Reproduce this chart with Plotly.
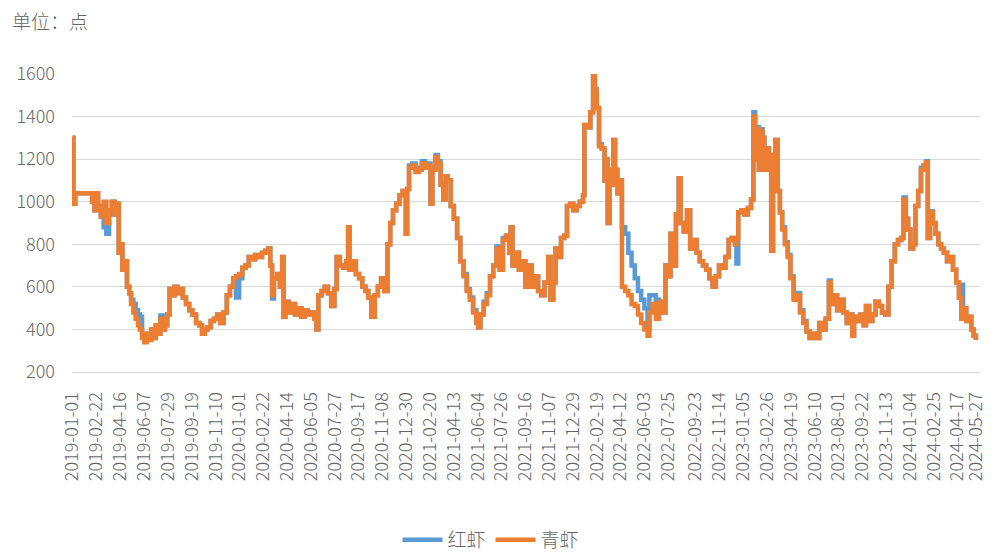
import pandas as pd
import plotly.graph_objects as go

# ---- data (day offsets from 2019-01-01; values in points) ----
BASE_DATE = "2019-01-01"

days_2019 = [0, 2, 6, 14, 21, 28, 35, 43, 48, 52, 56, 62, 68, 74, 80, 86, 92, 98, 101, 105,
             109, 114, 119, 124, 128, 133, 138, 143, 147, 152, 157, 162, 167, 172, 177, 182, 187, 192, 197, 202,
             207, 212, 217, 223, 229, 235, 241, 248, 255, 262, 270, 277, 283, 289, 295, 302, 309, 316, 323, 330,
             337, 344, 351, 357, 364]
qing_2019 = [1300, 990, 1040, 1040, 1040, 1040, 1040, 1000, 960, 1040, 980, 930, 1000, 900, 960, 1000, 940, 990, 760, 800,
             680, 720, 600, 570, 520, 480, 450, 420, 400, 360, 340, 380, 350, 400, 360, 420, 380, 450, 400, 420,
             470, 590, 560, 600, 570, 590, 550, 520, 490, 470, 430, 420, 380, 400, 410, 440, 450, 470, 430, 480,
             560, 600, 640, 650, 660]
hong_2019 = [1300, 990, 1040, 1040, 1040, 1040, 1040, 1000, 960, 1040, 980, 930, 880, 850, 940, 1000, 940, 990, 760, 800,
             680, 720, 600, 570, 540, 520, 490, 470, 460, 380, 350, 380, 360, 400, 360, 420, 380, 465, 400, 420,
             470, 590, 560, 600, 570, 590, 550, 520, 490, 470, 430, 420, 380, 400, 410, 440, 450, 470, 430, 480,
             560, 600, 640, 550, 640]

days_2020 = [371, 378, 385, 392, 399, 407, 414, 421, 428, 432, 436, 440, 447, 453, 458, 461, 465, 472, 479, 486,
             493, 500, 507, 514, 521, 528, 533, 537, 544, 551, 558, 565, 572, 577, 584, 591, 598, 602, 605, 612,
             619, 626, 633, 640, 646, 653, 660, 667, 674, 681, 688, 694, 700, 707, 714, 721, 728]
qing_2020 = [690, 700, 740, 730, 750, 740, 760, 770, 780, 700, 560, 640, 660, 600, 740, 460, 530, 480, 520, 470,
             500, 460, 490, 470, 480, 450, 400, 560, 580, 600, 570, 510, 590, 740, 700, 690, 720, 880, 680, 720,
             660, 640, 600, 580, 550, 460, 560, 600, 640, 580, 800, 900, 960, 990, 1030, 1050, 850]
hong_2020 = [690, 700, 740, 730, 750, 740, 760, 770, 780, 700, 545, 640, 660, 600, 740, 460, 530, 480, 520, 470,
             500, 460, 490, 470, 480, 450, 400, 560, 580, 600, 570, 510, 590, 740, 700, 690, 720, 880, 680, 720,
             660, 640, 600, 580, 550, 460, 560, 600, 640, 580, 800, 900, 960, 990, 1030, 1050, 850]

days_2021 = [731, 735, 742, 749, 756, 763, 770, 777, 782, 786, 793, 798, 804, 810, 815, 819, 826, 833, 840, 847,
             854, 861, 868, 875, 882, 886, 891, 898, 905, 912, 919, 926, 933, 940, 947, 954, 957, 961, 968, 975,
             982, 989, 996, 1003, 1010, 1017, 1024, 1031, 1039, 1044, 1050, 1055, 1061, 1067, 1074, 1080, 1087, 1094]
qing_2021 = [1060, 1160, 1170, 1140, 1150, 1180, 1160, 1170, 990, 1150, 1210, 1180, 1080, 1010, 1120, 1100, 980, 920, 830, 720,
             650, 580, 540, 480, 430, 410, 470, 520, 560, 650, 700, 780, 680, 820, 840, 760, 880, 700, 760, 680,
             720, 600, 700, 600, 650, 580, 560, 620, 740, 540, 620, 780, 740, 830, 840, 980, 990, 960]
hong_2021 = [1060, 1170, 1180, 1150, 1160, 1190, 1170, 1180, 990, 1160, 1220, 1190, 1080, 1010, 1120, 1100, 980, 920, 830, 720,
             660, 590, 550, 490, 440, 410, 470, 530, 570, 650, 700, 790, 680, 830, 840, 760, 880, 700, 760, 680,
             720, 600, 700, 600, 650, 580, 560, 620, 740, 540, 620, 780, 740, 830, 840, 980, 990, 960]

days_2022 = [1101, 1108, 1115, 1118, 1125, 1131, 1137, 1141, 1145, 1150, 1156, 1162, 1166, 1169, 1173, 1177, 1181, 1185, 1190, 1195,
             1200, 1207, 1214, 1221, 1228, 1235, 1242, 1249, 1256, 1260, 1267, 1274, 1281, 1288, 1295, 1302, 1306, 1313, 1318, 1324,
             1328, 1335, 1342, 1349, 1356, 1363, 1370, 1377, 1384, 1391, 1398, 1405, 1412, 1419, 1426, 1433, 1440, 1447, 1450, 1454]
qing_2022 = [980, 1000, 1030, 1360, 1350, 1420, 1610, 1520, 1440, 1260, 1250, 1100, 1200, 900, 1150, 1080, 1290, 1150, 1040, 1100,
             600, 580, 560, 520, 510, 470, 430, 400, 370, 480, 520, 450, 530, 480, 700, 650, 850, 700, 940, 1110,
             900, 860, 960, 780, 820, 760, 720, 700, 680, 640, 600, 650, 700, 690, 740, 820, 830, 800, 830, 950]
hong_2022 = [980, 1000, 1030, 1360, 1350, 1420, 1620, 1530, 1440, 1270, 1250, 1100, 1200, 900, 1150, 1080, 1290, 1150, 1040, 1100,
             880, 850, 760, 700, 640, 580, 540, 500, 400, 560, 560, 540, 530, 480, 700, 650, 850, 700, 940, 1110,
             900, 860, 960, 780, 820, 760, 720, 700, 680, 640, 600, 650, 700, 690, 740, 820, 830, 800, 710, 950]

days_2023 = [1461, 1468, 1475, 1482, 1487, 1491, 1495, 1499, 1503, 1507, 1511, 1516, 1521, 1526, 1530, 1535, 1540, 1545, 1550, 1556,
             1562, 1568, 1575, 1582, 1589, 1596, 1603, 1610, 1617, 1624, 1631, 1638, 1645, 1652, 1656, 1663, 1670, 1677, 1684, 1691,
             1698, 1703, 1707, 1714, 1721, 1728, 1733, 1740, 1747, 1754, 1761, 1768, 1775, 1782, 1789, 1796, 1803, 1810, 1815, 1820, 1825]
qing_2023 = [960, 940, 970, 1010, 1400, 1200, 1340, 1150, 1330, 1300, 1150, 1250, 1220, 770, 1100, 1290, 1050, 950, 870, 800,
             740, 640, 540, 560, 480, 430, 390, 360, 380, 360, 430, 400, 450, 620, 520, 560, 490, 540, 480, 430,
             470, 370, 460, 440, 470, 420, 510, 440, 470, 530, 510, 480, 470, 600, 720, 800, 820, 830, 1010, 920, 870]
hong_2023 = [960, 940, 970, 1010, 1420, 1200, 1350, 1150, 1340, 1300, 1150, 1250, 1220, 770, 1100, 1290, 1050, 950, 880, 810,
             750, 650, 550, 570, 490, 440, 390, 360, 380, 360, 430, 400, 450, 630, 520, 560, 490, 540, 480, 430,
             470, 370, 460, 440, 470, 420, 510, 440, 470, 530, 510, 480, 470, 600, 720, 800, 820, 830, 1020, 920, 870]

days_2024 = [1830, 1836, 1841, 1847, 1853, 1859, 1864, 1868, 1873, 1879, 1885, 1891, 1897, 1903, 1910, 1917, 1923, 1930, 1936, 1941,
             1945, 1952, 1959, 1963, 1968, 1973]
qing_2024 = [780, 800, 980, 1050, 1150, 1170, 1185, 830, 950, 900, 850, 800, 780, 760, 720, 740, 680, 620, 550, 450,
             500, 440, 460, 400, 370, 350]
hong_2024 = [780, 800, 980, 1050, 1160, 1170, 1190, 830, 955, 900, 850, 800, 780, 760, 720, 740, 680, 620, 550, 610,
             500, 440, 460, 400, 370, 350]

tick_labels = ["2019-01-01", "2019-02-22", "2019-04-16", "2019-06-07", "2019-07-29", "2019-09-19", "2019-11-10",
               "2020-01-01", "2020-02-22", "2020-04-14", "2020-06-05", "2020-07-27", "2020-09-17", "2020-11-08",
               "2020-12-30", "2021-02-20", "2021-04-13", "2021-06-04", "2021-07-26", "2021-09-16", "2021-11-07",
               "2021-12-29", "2022-02-19", "2022-04-12", "2022-06-03", "2022-07-25", "2022-09-23", "2022-11-14",
               "2023-01-05", "2023-02-26", "2023-04-19", "2023-06-10", "2023-08-01", "2023-09-22", "2023-11-13",
               "2024-01-04", "2024-02-25", "2024-04-17", "2024-05-27"]

series_names = ["红虾", "青虾"]
series_colors = ["#5B9BD5", "#ED7D31"]

# ---- assemble ----
all_days = days_2019 + days_2020 + days_2021 + days_2022 + days_2023 + days_2024
dates = pd.Timestamp(BASE_DATE) + pd.to_timedelta(all_days, unit="D")
hong = hong_2019 + hong_2020 + hong_2021 + hong_2022 + hong_2023 + hong_2024
qing = qing_2019 + qing_2020 + qing_2021 + qing_2022 + qing_2023 + qing_2024

FONT = "Noto Sans CJK SC"
GREY = "#666666"

fig = go.Figure()
for name, vals, color in zip(series_names, [hong, qing], series_colors):
    fig.add_trace(go.Scatter(
        x=dates, y=vals, name=name, mode="lines",
        line=dict(color=color, width=4.5, shape="hv"),
    ))

fig.update_layout(
    width=995, height=554,
    margin=dict(l=72, r=8, t=74, b=182),
    paper_bgcolor="white", plot_bgcolor="white",
    font=dict(family=FONT, color=GREY, size=18, weight=300),
    title=dict(text="单位：点", x=12 / 995, xanchor="left", xref="container",
               y=1 - 22 / 554, yanchor="middle", yref="container",
               font=dict(family=FONT, size=19, color=GREY, weight=300)),
    showlegend=True,
    legend=dict(orientation="h", xref="container", yref="container",
                x=491 / 995, xanchor="center", y=1 - 540 / 554, yanchor="middle",
                font=dict(family=FONT, size=19, color=GREY, weight=300), itemwidth=40),
)
fig.update_yaxes(range=[200, 1600], dtick=200, showgrid=True, gridcolor="#D9D9D9", gridwidth=1,
                 zeroline=False, showline=False, ticks="", ticklabelstandoff=16,
                 tickfont=dict(family=FONT, size=18, color=GREY, weight=300), fixedrange=True)
fig.update_xaxes(type="date", range=["2018-12-31", "2024-06-05"], showgrid=False,
                 showline=True, linecolor="#D9D9D9", linewidth=1,
                 tickvals=pd.to_datetime(tick_labels), ticktext=tick_labels, tickangle=-90,
                 ticks="", ticklabelstandoff=12,
                 tickfont=dict(family=FONT, size=18, color=GREY, weight=300), fixedrange=True)

fig.write_html("out.html", config={"displayModeBar": False},
               post_script="document.body.style.margin='0';")
